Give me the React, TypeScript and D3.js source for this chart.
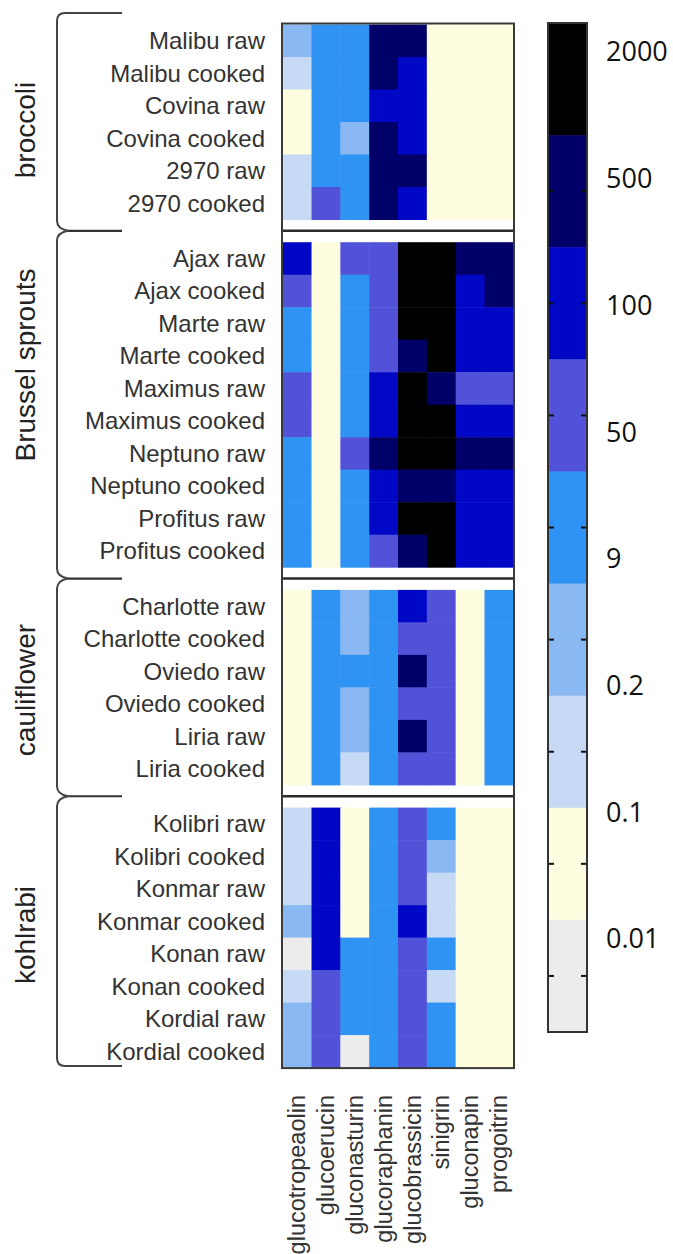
import React from 'react';
import * as d3 from 'd3';

const compounds = ['glucotropeaolin', 'glucoerucin', 'gluconasturin', 'glucoraphanin', 'glucobrassicin', 'sinigrin', 'gluconapin', 'progoitrin'];

const groupNames = ['broccoli', 'Brussel sprouts', 'cauliflower', 'kohlrabi'];

const broccoliRows = ['Malibu raw', 'Malibu cooked', 'Covina raw', 'Covina cooked', '2970 raw', '2970 cooked'];
const brusselsRows = ['Ajax raw', 'Ajax cooked', 'Marte raw', 'Marte cooked', 'Maximus raw', 'Maximus cooked', 'Neptuno raw', 'Neptuno cooked', 'Profitus raw', 'Profitus cooked'];
const cauliflowerRows = ['Charlotte raw', 'Charlotte cooked', 'Oviedo raw', 'Oviedo cooked', 'Liria raw', 'Liria cooked'];
const kohlrabiRows = ['Kolibri raw', 'Kolibri cooked', 'Konmar raw', 'Konmar cooked', 'Konan raw', 'Konan cooked', 'Kordial raw', 'Kordial cooked'];

// Values per row, columns in the order of `compounds`
const broccoliValues = [
  [2, 20, 20, 1000, 1000, 0.05, 0.05, 0.05],
  [0.15, 20, 20, 1000, 200, 0.05, 0.05, 0.05],
  [0.05, 20, 20, 200, 200, 0.05, 0.05, 0.05],
  [0.05, 20, 2, 1000, 200, 0.05, 0.05, 0.05],
  [0.15, 20, 20, 1000, 1000, 0.05, 0.05, 0.05],
  [0.15, 70, 20, 1000, 200, 0.05, 0.05, 0.05],
];
const brusselsValues = [
  [200, 0.05, 70, 70, 3000, 3000, 1000, 1000],
  [70, 0.05, 20, 70, 3000, 3000, 200, 1000],
  [20, 0.05, 20, 70, 3000, 3000, 200, 200],
  [20, 0.05, 20, 70, 1000, 3000, 200, 200],
  [70, 0.05, 20, 200, 3000, 1000, 70, 70],
  [70, 0.05, 20, 200, 3000, 3000, 200, 200],
  [20, 0.05, 70, 1000, 3000, 3000, 1000, 1000],
  [20, 0.05, 20, 200, 1000, 1000, 200, 200],
  [20, 0.05, 20, 200, 3000, 3000, 200, 200],
  [20, 0.05, 20, 70, 1000, 3000, 200, 200],
];
const cauliflowerValues = [
  [0.05, 20, 2, 20, 200, 70, 0.05, 20],
  [0.05, 20, 2, 20, 70, 70, 0.05, 20],
  [0.05, 20, 20, 20, 1000, 70, 0.05, 20],
  [0.05, 20, 2, 20, 70, 70, 0.05, 20],
  [0.05, 20, 2, 20, 1000, 70, 0.05, 20],
  [0.05, 20, 0.15, 20, 70, 70, 0.05, 20],
];
const kohlrabiValues = [
  [0.15, 200, 0.05, 20, 70, 20, 0.05, 0.05],
  [0.15, 200, 0.05, 20, 70, 2, 0.05, 0.05],
  [0.15, 200, 0.05, 20, 70, 0.15, 0.05, 0.05],
  [2, 200, 0.05, 20, 200, 0.15, 0.05, 0.05],
  [0.005, 200, 20, 20, 70, 20, 0.05, 0.05],
  [0.15, 70, 20, 20, 70, 0.15, 0.05, 0.05],
  [2, 70, 20, 20, 70, 20, 0.05, 0.05],
  [2, 70, 0.005, 20, 70, 20, 0.05, 0.05],
];

const thresholds = [0.01, 0.1, 0.2, 9, 50, 100, 500, 2000];
const colors = ['#ececec', '#fefde0', '#c6d9f5', '#8ab8f2', '#2e93f2', '#5252d9', '#0008c6', '#000068', '#000000'];
const colorbarLabels = ['2000', '500', '100', '50', '9', '0.2', '0.1', '0.01'];

const groupRows = [broccoliRows, brusselsRows, cauliflowerRows, kohlrabiRows];
const groupValues = [broccoliValues, brusselsValues, cauliflowerValues, kohlrabiValues];

export default function App() {
  const W = 673, H = 1254;
  const color = d3.scaleThreshold<number, string>().domain(thresholds).range(colors);

  const heatLeft = 282.7, heatRight = 513.3;
  const x = d3.scaleBand<string>().domain(compounds).range([heatLeft, heatRight]);

  const rowH = 32.5, gapH = 22.7;
  let cursor = 24.5;
  const groupScales = groupRows.map((rows) => {
    const y0 = cursor;
    const y1 = y0 + rows.length * rowH;
    cursor = y1 + gapH;
    return d3.scaleBand<string>().domain(rows).range([y0, y1]);
  });
  const heatTop = groupScales[0].range()[0];
  const heatBottom = groupScales[groupScales.length - 1].range()[1];
  const seps = groupScales.slice(0, -1).map((s) => s.range()[1] + gapH / 2);

  // colorbar
  const cbX = 548, cbW = 39, cbTop = 23, cbBottom = 1032;
  const cbIdx = d3.range(colors.length).reverse();
  const cbY = d3.scaleBand<number>().domain(cbIdx).range([cbTop, cbBottom]);
  const labY = d3.scalePoint<string>().domain(colorbarLabels).range([52, 939]);

  // braces
  const braceX = 57, braceEnd = 122;
  const braceSpans = groupScales.map((s, i) => [i === 0 ? 13 : seps[i - 1], i === groupScales.length - 1 ? 1066 : seps[i]]);
  const bracePath = (a: number, b: number, first: boolean, last: boolean) => {
    let p = '';
    if (first) p += `M${braceEnd},${a} L${braceX + 8},${a} Q${braceX},${a} ${braceX},${a + 8}`;
    else p += `M${braceX + 11},${a} Q${braceX},${a + 2} ${braceX},${a + 10}`;
    if (last) p += ` L${braceX},${b - 8} Q${braceX},${b} ${braceX + 8},${b} L${braceEnd},${b}`;
    else p += ` L${braceX},${b - 10} Q${braceX},${b - 2} ${braceX + 11},${b}`;
    return p;
  };
  const groupLabelY = [130, 365, 690, 935];

  return (
    <svg width={W} height={H} style={{ position: 'absolute', left: 0, top: 0, background: '#fff' }} fontFamily="'Liberation Sans', Arial, sans-serif">
      {/* cells */}
      {groupScales.map((ys, gi) =>
        groupRows[gi].map((row, ri) =>
          compounds.map((c, ci) => (
            <rect key={`${gi}-${ri}-${ci}`} x={x(c)!} y={ys(row)!} width={x.bandwidth() + 0.5} height={ys.bandwidth() + 0.5}
              fill={color(groupValues[gi][ri][ci])} />
          ))
        )
      )}
      {/* separators */}
      {seps.map((s, i) => (
        <line key={i} x1={heatLeft - 1} x2={heatRight + 1} y1={s} y2={s} stroke="#2a2a2a" strokeWidth={2.5} />
      ))}
      <rect x={heatLeft - 0.7} y={heatTop - 1} width={heatRight - heatLeft + 1.4} height={heatBottom - heatTop + 1.5} fill="none" stroke="#3a3a3a" strokeWidth={2} />

      {/* row labels */}
      {groupScales.map((ys, gi) =>
        groupRows[gi].map((row) => (
          <text key={row} x={265} y={ys(row)! + ys.bandwidth() / 2} dy="0.35em" textAnchor="end" fontSize={24} fill="#333">{row}</text>
        ))
      )}

      {/* braces */}
      {braceSpans.map(([a, b], i) => (
        <path key={i} d={bracePath(a, b, i === 0, i === braceSpans.length - 1)} fill="none" stroke="#444" strokeWidth={2} />
      ))}
      {seps.map((s, i) => (
        <line key={i} x1={braceX + 11} x2={braceEnd} y1={s} y2={s} stroke="#333" strokeWidth={2.2} />
      ))}

      {/* group labels */}
      {groupNames.map((g, i) => (
        <text key={g} transform={`translate(25,${groupLabelY[i]}) rotate(-90)`} textAnchor="middle" dy="0.35em" fontSize={28} fill="#222">{g}</text>
      ))}

      {/* column labels */}
      {compounds.map((c) => (
        <text key={c} transform={`translate(${x(c)! + x.bandwidth() / 2},1095) rotate(-90)`} textAnchor="end" dy="0.35em" fontSize={23.5} fill="#333">{c}</text>
      ))}

      {/* colorbar */}
      {cbIdx.map((i) => (
        <rect key={i} x={cbX} y={cbY(i)!} width={cbW} height={cbY.bandwidth() + 0.5} fill={colors[i]} />
      ))}
      {cbIdx.filter((i) => i !== colors.length - 1).map((i) => {
        const cy = cbY(i)! + cbY.bandwidth() / 2;
        return (
          <g key={i}>
            <line x1={cbX} x2={cbX + 6} y1={cy} y2={cy} stroke="#111" strokeWidth={2} />
            <line x1={cbX + cbW - 6} x2={cbX + cbW} y1={cy} y2={cy} stroke="#111" strokeWidth={2} />
          </g>
        );
      })}
      <rect x={cbX} y={cbTop} width={cbW} height={cbBottom - cbTop} fill="none" stroke="#333" strokeWidth={2} />
      {colorbarLabels.map((l) => (
        <text key={l} x={606} y={labY(l)!} dy="0.35em" fontFamily="'Open Sans', sans-serif" fontSize={27} fill="#111">{l}</text>
      ))}
    </svg>
  );
}
